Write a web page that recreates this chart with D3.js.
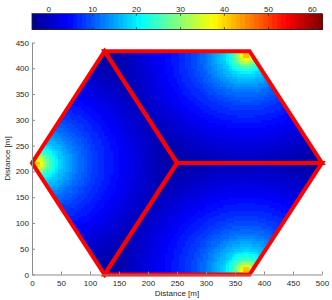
<!DOCTYPE html>
<html>
<head>
<meta charset="utf-8">
<script src="https://cdn.jsdelivr.net/npm/d3@7"></script>
<style>
  body { margin: 0; background: #fff; }
  svg { display: block; font-family: "Liberation Sans", Arial, sans-serif; }
  .axis path, .axis line { stroke: #8c8c8c; }
  .axis text { fill: #262626; font-size: 8px; }
</style>
</head>
<body>
<div id="chart"></div>
<script>
// room outline: three rhombi making a hexagon (metres)
const rooms = [
  [[0, 216.5], [125, 0], [250, 216.5], [125, 433]],
  [[125, 433], [250, 216.5], [500, 216.5], [375, 433]],
  [[125, 0], [375, 0], [500, 216.5], [250, 216.5]]
];
// one source per room, near its outer corner
const sources = [[10, 216.5], [370, 424], [370, 9]];

const profileDist = [0, 5, 10, 20, 38, 72, 100, 129, 170, 210, 250];
const profileVal  = [45, 40, 34, 26, 18, 11.5, 8, 5.5, 2, -1, -3.5];

const colorLimits = [-3.8, 62.2];
const cbarTicks = [0, 10, 20, 30, 40, 50, 60];
const xTicks = [0, 50, 100, 150, 200, 250, 300, 350, 400, 450, 500];
const yTicks = [0, 50, 100, 150, 200, 250, 300, 350, 400, 450];
const cellSize = 5;

const W = 332, H = 300;
const margin = {left: 32, right: 10, top: 42.5, bottom: 25.5};

const svg = d3.select("#chart").append("svg")
  .attr("width", W).attr("height", H);

const x = d3.scaleLinear().domain([0, 500]).range([margin.left, W - margin.right]);
const y = d3.scaleLinear().domain([0, 450]).range([H - margin.bottom, margin.top]);

// matlab-like jet, 64 levels
const jetRaw = d3.scaleLinear()
  .domain([0, 0.125, 0.375, 0.625, 0.875, 1])
  .range(["#00008f", "#0000ff", "#00ffff", "#ffff00", "#ff0000", "#800000"])
  .clamp(true);
const jet = d3.scaleQuantize().domain(colorLimits)
  .range(d3.range(64).map(i => jetRaw((i + 0.5) / 64)));

const profile = d3.scaleLinear().domain(profileDist).range(profileVal).clamp(true);

// hexagon clip
const hexagon = [[0, 216.5], [125, 0], [375, 0], [500, 216.5], [375, 433], [125, 433]];
svg.append("clipPath").attr("id", "hexclip")
  .append("polygon")
  .attr("points", hexagon.map(p => [x(p[0]), y(p[1])].join(",")).join(" "));

// field cells
let cells = [];
for (let gx = 0; gx < 500; gx += cellSize) {
  for (let gy = 0; gy < 435; gy += cellSize) {
    const c = [gx + cellSize / 2, gy + cellSize / 2];
    let r = rooms.findIndex(poly => d3.polygonContains(poly, c));
    if (r < 0) {
      // centre just outside: take the nearest room's source
      let best = Infinity;
      sources.forEach((s, i) => {
        const d = Math.hypot(s[0] - c[0], s[1] - c[1]);
        if (d < best) { best = d; r = i; }
      });
    }
    const s = sources[r];
    cells.push({x0: gx, y0: gy, v: profile(Math.hypot(s[0] - c[0], s[1] - c[1]))});
  }
}

svg.append("g").attr("clip-path", "url(#hexclip)")
  .attr("shape-rendering", "crispEdges")
  .selectAll("rect").data(cells).enter().append("rect")
  .attr("x", d => Math.floor(x(d.x0)))
  .attr("y", d => Math.floor(y(d.y0 + cellSize)))
  .attr("width", d => Math.ceil(x(d.x0 + cellSize)) - Math.floor(x(d.x0)))
  .attr("height", d => Math.ceil(y(d.y0)) - Math.floor(y(d.y0 + cellSize)))
  .attr("fill", d => jet(d.v));

// walls
svg.append("g").selectAll("polygon").data(rooms).enter().append("polygon")
  .attr("points", d => d.map(p => [x(p[0]), y(p[1])].join(",")).join(" "))
  .attr("fill", "none")
  .attr("stroke", "#ff0000")
  .attr("stroke-width", 4)
  .attr("stroke-linejoin", "miter");

// axes (ticks inward, no box)
svg.append("g").attr("class", "axis")
  .attr("transform", `translate(0,${y(0)})`)
  .call(d3.axisBottom(x).tickValues(xTicks).tickSizeInner(-3).tickSizeOuter(0).tickPadding(6));
svg.append("g").attr("class", "axis")
  .attr("transform", `translate(${x(0)},0)`)
  .call(d3.axisLeft(y).tickValues(yTicks).tickSizeInner(-3).tickSizeOuter(0).tickPadding(3));

svg.append("text")
  .attr("x", (x(0) + x(500)) / 2).attr("y", 296)
  .attr("text-anchor", "middle").attr("font-size", 8).attr("fill", "#262626")
  .text("Distance [m]");
svg.append("text")
  .attr("transform", `translate(10,${(y(0) + y(450)) / 2}) rotate(-90)`)
  .attr("text-anchor", "middle").attr("font-size", 8).attr("fill", "#262626")
  .text("Distance [m]");

// colorbar
const cb = {top: 13.5, height: 16};
const cx = d3.scaleLinear().domain(colorLimits).range([x(0), x(500)]);
const step = (colorLimits[1] - colorLimits[0]) / 64;
svg.append("g").attr("shape-rendering", "crispEdges")
  .selectAll("rect").data(d3.range(64)).enter().append("rect")
  .attr("x", i => cx(colorLimits[0] + i * step))
  .attr("y", cb.top)
  .attr("width", cx(step) - cx(0) + 1)
  .attr("height", cb.height)
  .attr("fill", i => jet(colorLimits[0] + (i + 0.5) * step));
svg.append("rect")
  .attr("x", cx.range()[0]).attr("y", cb.top)
  .attr("width", cx.range()[1] - cx.range()[0]).attr("height", cb.height)
  .attr("fill", "none").attr("stroke", "#222").attr("stroke-width", 0.8);
const cbTick = svg.append("g").selectAll("g").data(cbarTicks).enter().append("g");
cbTick.append("line")
  .attr("x1", d => cx(d)).attr("x2", d => cx(d))
  .attr("y1", cb.top).attr("y2", cb.top + 2.5)
  .attr("stroke", "#222").attr("stroke-width", 0.6);
cbTick.append("line")
  .attr("x1", d => cx(d)).attr("x2", d => cx(d))
  .attr("y1", cb.top + cb.height).attr("y2", cb.top + cb.height - 2.5)
  .attr("stroke", "#222").attr("stroke-width", 0.6);
cbTick.append("text")
  .attr("x", d => cx(d)).attr("y", 11.5)
  .attr("text-anchor", "middle").attr("font-size", 8).attr("fill", "#262626")
  .text(d => d);
</script>
</body>
</html>
